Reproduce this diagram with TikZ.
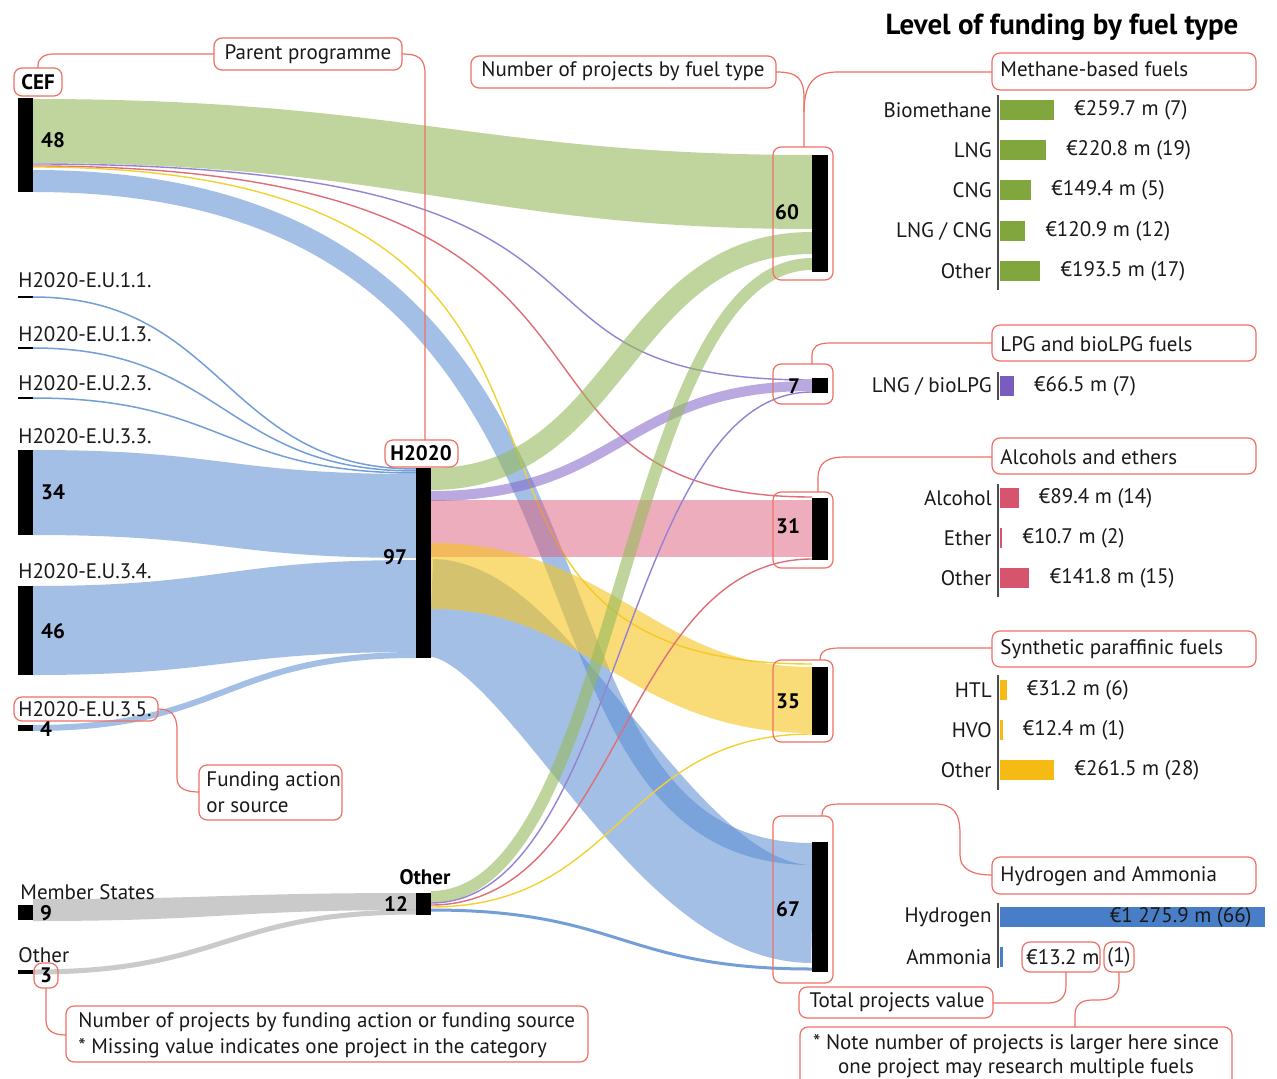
\documentclass[tikz,border=0pt]{standalone}
\usepackage{fontspec}
\setmainfont{PT Sans}
\definecolor{flgreen}{RGB}{150,186,92}
\definecolor{flblue}{RGB}{90,140,210}
\definecolor{flpink}{RGB}{222,92,122}
\definecolor{flyellow}{RGB}{246,196,30}
\definecolor{flpurple}{RGB}{130,100,200}
\definecolor{flgray}{RGB}{150,150,150}
\definecolor{thpurple}{RGB}{150,130,210}
\definecolor{thred}{RGB}{222,110,120}
\definecolor{thyellow}{RGB}{242,210,50}
\definecolor{thblue}{RGB}{115,158,215}
\definecolor{anno}{RGB}{238,112,100}
\definecolor{bargreen}{RGB}{130,166,62}
\definecolor{barpurple}{RGB}{122,92,190}
\definecolor{barpink}{RGB}{214,84,110}
\definecolor{baryellow}{RGB}{246,186,20}
\definecolor{barblue}{RGB}{72,126,200}
\definecolor{txt}{RGB}{25,25,25}
\newcommand{\fband}[7]{%
  \fill[#1] (#2,#3) .. controls ({(#2+#5)/2},#3) and ({(#2+#5)/2},#6) .. (#5,#6)
    -- (#5,#7) .. controls ({(#2+#5)/2},#7) and ({(#2+#5)/2},#4) .. (#2,#4) -- cycle;}
\newcommand{\sband}[5]{%
  \draw[#1] (#2,#3) .. controls ({(#2+#4)/2},#3) and ({(#2+#4)/2},#5) .. (#4,#5);}
\newcommand{\fuelbar}[6]{%
  \pgfmathsetmacro{\barlen}{#3*0.2077}
  \fill[#6] (1000,{#2-10}) rectangle ({1000+\barlen},{#2+10});
  \node[lbl, anchor=east] (fl#1) at (992,#2) {#4};
  \node[lbl, anchor=west] (fv#1) at ({1020+\barlen},#2) {#5};}
\begin{document}
\begin{tikzpicture}[x=0.5pt,y=-0.5pt,
  lbl/.style={font=\fontsize{10.5}{12}\selectfont, inner sep=0pt, text=txt},
  num/.style={font=\fontsize{10.5}{12}\selectfont\bfseries, inner sep=0pt, text=black},
  ttl/.style={font=\fontsize{14.5}{17}\selectfont\bfseries, inner sep=0pt, text=black},
  box/.style={draw=anno, line width=0.6pt, rounded corners=4pt},
  aline/.style={draw=anno, line width=0.6pt},
  blackbar/.style={fill=black},
  gfill/.style={fill=flgreen, fill opacity=0.6},
  bfill/.style={fill=flblue, fill opacity=0.55},
  pkfill/.style={fill=flpink, fill opacity=0.5},
  gyfill/.style={fill=flgray, fill opacity=0.5},
  gflow/.style={draw=flgreen, draw opacity=0.6},
  bflow/.style={draw=flblue, draw opacity=0.55},
  pflow/.style={draw=flpurple, draw opacity=0.55},
  yflow/.style={draw=flyellow, draw opacity=0.6},
  gyflow/.style={draw=flgray, draw opacity=0.5},
  thp/.style={draw=thpurple, line width=0.7pt},
  thr/.style={draw=thred, line width=0.7pt},
  thy/.style={draw=thyellow, line width=0.7pt},
  thb/.style={draw=thblue, line width=0.75pt},
  axisl/.style={draw=black!70, line width=0.8pt}
]
\useasboundingbox (0,0) rectangle (1277,1079);
\fill[white] (0,0) rectangle (1277,1079);

% ---------- flows: left column -> H2020
\sband{thb}{33}{297}{416}{469}
\sband{thb}{33}{348}{416}{471}
\sband{thb}{33}{398}{416}{473}
\fband{bfill}{33}{450}{535}{416}{474}{558}
\fband{bfill}{33}{586}{675}{416}{560}{652}
\sband{bflow, line width=3pt}{33}{728}{416}{655}

% ---------- flows: left column -> Other
\fband{gyfill}{33}{899}{921}{416}{893}{910}
\sband{gyflow, line width=2.5pt}{33}{972}{416}{912}

% ---------- flows from CEF
\fill[gfill] (33,99) .. controls (400,99) and (480,155) .. (812,155) -- (812,229)
  .. controls (480,229) and (400,163) .. (33,163) -- cycle;
\draw[bflow, line width=11pt] (33,181) .. controls (680,181) and (470,854) .. (812,854);
\draw[thp] (33,164) .. controls (700,164) and (450,380) .. (812,380);
\draw[thr] (33,166) .. controls (700,166) and (450,497) .. (812,497);
\draw[thy] (33,167) .. controls (720,167) and (340,664) .. (812,664);

% ---------- flows from H2020
\draw[bflow, line width=49pt] (431,608) .. controls (540,608) and (660,914) .. (812,914);
\sband{gflow, line width=11pt}{431}{479}{812}{243}
\sband{pflow, line width=5pt}{431}{496}{812}{386}
\fill[pkfill] (431,500) rectangle (812,557);
\draw[yflow, line width=33pt] (431,576) .. controls (600,576) and (640,700) .. (812,700);

% ---------- flows from Other (middle)
\sband{gflow, line width=6pt}{431}{897}{812}{264}
\sband{thp}{431}{903}{812}{392}
\sband{thr}{431}{905}{812}{559}
\sband{thy}{431}{907}{812}{734}
\sband{thb, line width=1.5pt}{431}{910}{812}{969}

% ---------- black bars
\fill[blackbar] (18,98) rectangle (33,192);
\fill[blackbar] (18,296) rectangle (33,298.5);
\fill[blackbar] (18,347) rectangle (33,349.5);
\fill[blackbar] (18,397) rectangle (33,399.5);
\fill[blackbar] (18,450) rectangle (33,535);
\fill[blackbar] (18,586) rectangle (33,675);
\fill[blackbar] (18,725) rectangle (33,731);
\fill[blackbar] (18,905) rectangle (33,920);
\fill[blackbar] (18,970) rectangle (33,974);
\fill[blackbar] (416,468) rectangle (431,658);
\fill[blackbar] (416,893) rectangle (431,915);
\fill[blackbar] (812,155) rectangle (828,272);
\fill[blackbar] (812,378) rectangle (828,393);
\fill[blackbar] (812,498) rectangle (828,560);
\fill[blackbar] (812,667) rectangle (828,735);
\fill[blackbar] (812,842) rectangle (828,972);

% ---------- left labels
\node[num] (cef) at (38,82) {CEF};
\draw[box] (14,68) rectangle (62,96);
\node[num] (n48) at (53,140) {48};
\node[lbl, anchor=west] (eu11) at (18,280) {H2020-E.U.1.1.};
\node[lbl, anchor=west] (eu13) at (18,334) {H2020-E.U.1.3.};
\node[lbl, anchor=west] (eu23) at (18,383) {H2020-E.U.2.3.};
\node[lbl, anchor=west] (eu33) at (18,436) {H2020-E.U.3.3.};
\node[num] (n34) at (53,492) {34};
\node[lbl, anchor=west] (eu34) at (18,571) {H2020-E.U.3.4.};
\node[num] (n46) at (53,631) {46};
\node[lbl, anchor=west] (eu35) at (18,709) {H2020-E.U.3.5.};
\draw[box] (14,697) rectangle (158,721);
\node[num] (n4) at (46,729) {4};
\node[lbl, anchor=west] (ms) at (20,892) {Member States};
\node[num] (n9) at (46,913) {9};
\node[lbl, anchor=west] (othl) at (18,955) {Other};
\node[num] (n3) at (46,975) {3};
\draw[box] (34,963) rectangle (58,988);

% ---------- middle labels
\node[num] (h2020) at (421,453) {H2020};
\draw[box] (385,440) rectangle (458,467);
\node[num] (n97) at (395,557) {97};
\node[num] (othm) at (425,877) {Other};
\node[num] (n12) at (396,904) {12};

% ---------- right numbers and boxes
\node[num] (n60) at (787,212) {60};
\node[num] (n7) at (794,386) {7};
\node[num] (n31) at (788,526) {31};
\node[num] (n35) at (788,701) {35};
\node[num] (n67) at (788,909) {67};
\draw[box] (773,147) rectangle (833,280);
\draw[box] (773,364) rectangle (833,404);
\draw[box] (773,492) rectangle (833,568);
\draw[box] (773,660) rectangle (833,742);
\draw[box] (773,816) rectangle (833,983);

% ---------- callouts
\node[lbl] (parent) at (308,54) {Parent programme};
\draw[box] (214,38) rectangle (402,70);
\node[lbl] (nfuel) at (623,71) {Number of projects by fuel type};
\draw[box] (471,56) rectangle (776,88);
\node[lbl, anchor=west] (fund) at (206,781) {Funding action};
\node[lbl, anchor=west] (fund2) at (206,807) {or source};
\draw[box] (199,765) rectangle (342,820);
\node[lbl, anchor=west] (nproj) at (78,1022) {Number of projects by funding action or funding source};
\node[lbl, anchor=west] (nproj2) at (78,1048) {* Missing value indicates one project in the category};
\draw[box] (66,1006) rectangle (588,1062);

\draw[aline] (38,68) -- (38,66) .. controls (38,58) and (44,54) .. (54,54) -- (214,54);
\draw[aline] (402,54) .. controls (418,54) and (425,58) .. (425,74) -- (425,440);
\draw[aline] (776,72) .. controls (797,72) and (804,78) .. (804,98) -- (804,147);
\draw[aline] (804,112) .. controls (804,82) and (815,72) .. (838,72) -- (992,72);
\draw[aline] (812,364) -- (812,356) .. controls (812,347) and (817,343) .. (830,343) -- (992,343);
\draw[aline] (818,492) -- (818,478) .. controls (818,462) and (828,457) .. (845,457) -- (992,457);
\draw[aline] (820,660) .. controls (820,651) and (826,648) .. (840,648) -- (992,648);
\draw[aline] (822,816) .. controls (822,807) and (826,804) .. (840,804) -- (935,804)
  .. controls (954,804) and (960,814) .. (960,834) -- (960,855)
  .. controls (960,869) and (972,875) .. (992,875);
\draw[aline] (158,709) .. controls (171,709) and (177,715) .. (177,730) -- (177,778)
  .. controls (177,788) and (185,792) .. (199,792);
\draw[aline] (46,988) -- (46,1020) .. controls (46,1030) and (52,1035) .. (66,1035);
\draw[aline] (993,1003) -- (1048,1003) .. controls (1062,1003) and (1066,995) .. (1066,985) -- (1066,972);
\draw[aline] (1119,972) -- (1119,982) .. controls (1119,995) and (1112,1000) .. (1098,1000) -- (1092,1000)
  .. controls (1080,1000) and (1075,1006) .. (1075,1015) -- (1075,1027);

% ---------- bar chart
\node[ttl] (title) at (1062,27) {Level of funding by fuel type};

\node[lbl, anchor=west] (cat1) at (1000,69) {Methane-based fuels};
\draw[box] (992,53) rectangle (1256,90);
\draw[axisl] (998,95) -- (998,290);
\fuelbar{a}{110}{259.7}{Biomethane}{€259.7 m (7)}{bargreen}
\fuelbar{b}{150}{220.8}{LNG}{€220.8 m (19)}{bargreen}
\fuelbar{c}{190}{149.4}{CNG}{€149.4 m (5)}{bargreen}
\fuelbar{d}{231}{120.9}{LNG / CNG}{€120.9 m (12)}{bargreen}
\fuelbar{e}{271}{193.5}{Other}{€193.5 m (17)}{bargreen}

\node[lbl, anchor=west] (cat2) at (1000,344) {LPG and bioLPG fuels};
\draw[box] (992,325) rectangle (1256,361);
\draw[axisl] (998,372) -- (998,400);
\fuelbar{f}{386}{66.5}{LNG / bioLPG}{€66.5 m (7)}{barpurple}

\node[lbl, anchor=west] (cat3) at (1000,457) {Alcohols and ethers};
\draw[box] (992,438) rectangle (1256,474);
\draw[axisl] (998,484) -- (998,597);
\fuelbar{g}{498}{89.4}{Alcohol}{€89.4 m (14)}{barpink}
\fuelbar{h}{538}{10.7}{Ether}{€10.7 m (2)}{barpink}
\fuelbar{i}{578}{141.8}{Other}{€141.8 m (15)}{barpink}

\node[lbl, anchor=west] (cat4) at (1000,649) {Synthetic paraffinic fuels};
\draw[box] (992,631) rectangle (1256,667);
\draw[axisl] (998,675) -- (998,790);
\fuelbar{j}{690}{31.2}{HTL}{€31.2 m (6)}{baryellow}
\fuelbar{k}{730}{12.4}{HVO}{€12.4 m (1)}{baryellow}
\fuelbar{l}{770}{261.5}{Other}{€261.5 m (28)}{baryellow}

\node[lbl, anchor=west] (cat5) at (1000,876) {Hydrogen and Ammonia};
\draw[box] (992,857) rectangle (1256,894);
\draw[axisl] (998,903) -- (998,968);
\fill[barblue] (1000,907) rectangle (1265,927);
\node[lbl, anchor=east] (hyd) at (992,917) {Hydrogen};
\node[lbl, anchor=east] (hydv) at (1252,917) {€1 275.9 m (66)};
\fill[barblue] (1000,947) rectangle (1002.7,967);
\node[lbl, anchor=east] (amm) at (992,957) {Ammonia};
\node[lbl, anchor=west] (ammv) at (1026,957) {€13.2 m};
\draw[box] (1022,942) rectangle (1100,972);
\node[lbl] (ammn) at (1119,957) {(1)};
\draw[box] (1104,942) rectangle (1134,972);

\node[lbl] (tpv) at (897,1002) {Total projects value};
\draw[box] (799,987) rectangle (993,1018);
\node[lbl, align=center] (note) at (1016,1056) {* Note number of projects is larger here since\\one project may research multiple fuels};
\draw[box] (800,1027) rectangle (1232,1092);
\end{tikzpicture}
\end{document}
